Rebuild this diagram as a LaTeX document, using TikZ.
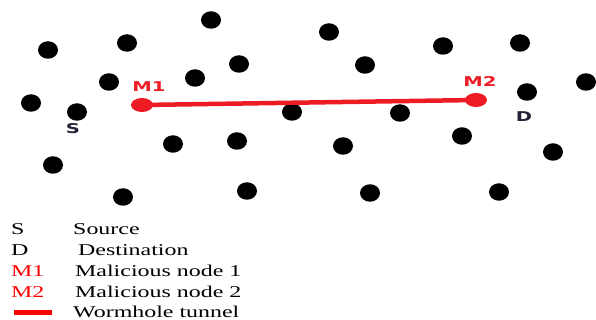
\documentclass[tikz,border=0pt]{standalone}
\usepackage{fontspec}
\usetikzlibrary{shapes.geometric}
\newfontfamily\legendfont[FakeStretch=1.45]{Liberation Serif}
\newfontfamily\tagfont[FakeStretch=1.45]{DejaVu Sans}
\definecolor{tunnelred}{RGB}{237,28,36}
\definecolor{tagdark}{RGB}{35,35,55}
\tikzset{
  sensor/.style={ellipse, fill=black, inner sep=0pt, minimum width=20pt, minimum height=17.5pt},
  rogue/.style={ellipse, fill=tunnelred, inner sep=0pt, minimum width=22pt, minimum height=14pt},
  tunnel/.style={draw=tunnelred, line width=4.5pt},
  tag/.style={inner sep=0pt, font=\tagfont\bfseries\fontsize{13.5}{16}\selectfont},
  legtext/.style={inner sep=0pt, anchor=base west, font=\legendfont\fontsize{16.5}{20}\selectfont},
}
\begin{document}
\begin{tikzpicture}[x=1pt, y=-1pt]
\useasboundingbox (0,0) rectangle (596,320);
% ordinary sensor nodes
\foreach \nm/\px/\py in {n1/48/50, n2/127/43, n3/211/20, n4/239/64, n5/195/78,
    n6/109/82, n7/31/103, src/77/112, n9/292/112, n10/173/144, n11/237/141,
    n12/53/165, n13/123/197, n14/247/191, n15/329/32, n16/365/65, n17/443/46,
    n18/520/43, n19/586/82, dst/527/92, n21/400/113, n22/462/136, n23/343/146,
    n24/553/152, n25/370/193, n26/499/192}
  \node[sensor] (\nm) at (\px,\py) {};
% malicious pair and the wormhole tunnel between them
\node[rogue] (m1) at (142,105) {};
\node[rogue] (m2) at (476,100) {};
\draw[tunnel] (m1.center) -- (m2.center);
% labels in the field
\node[tag, text=tunnelred] (m1lab) at (149,87) {M1};
\node[tag, text=tunnelred] (m2lab) at (480,81) {M2};
\node[tag, text=tagdark] (slab) at (73,129) {S};
\node[tag, text=tagdark] (dlab) at (524,117) {D};
% legend
\node[legtext] (k1) at (11,234) {S};
\node[legtext] (v1) at (73,234) {Source};
\node[legtext] (k2) at (11,255) {D};
\node[legtext] (v2) at (78,255) {Destination};
\node[legtext, text=red] (k3) at (11,276.5) {M1};
\node[legtext] (v3) at (75,276.5) {Malicious node 1};
\node[legtext, text=red] (k4) at (11,297) {M2};
\node[legtext] (v4) at (75,297) {Malicious node 2};
\coordinate (barL) at (14,312.5);
\coordinate (barR) at (52,312.5);
\draw[draw=red, line width=5pt] (barL) -- (barR);
\node[legtext] (v5) at (73,317.5) {Wormhole tunnel};
\end{tikzpicture}
\end{document}
